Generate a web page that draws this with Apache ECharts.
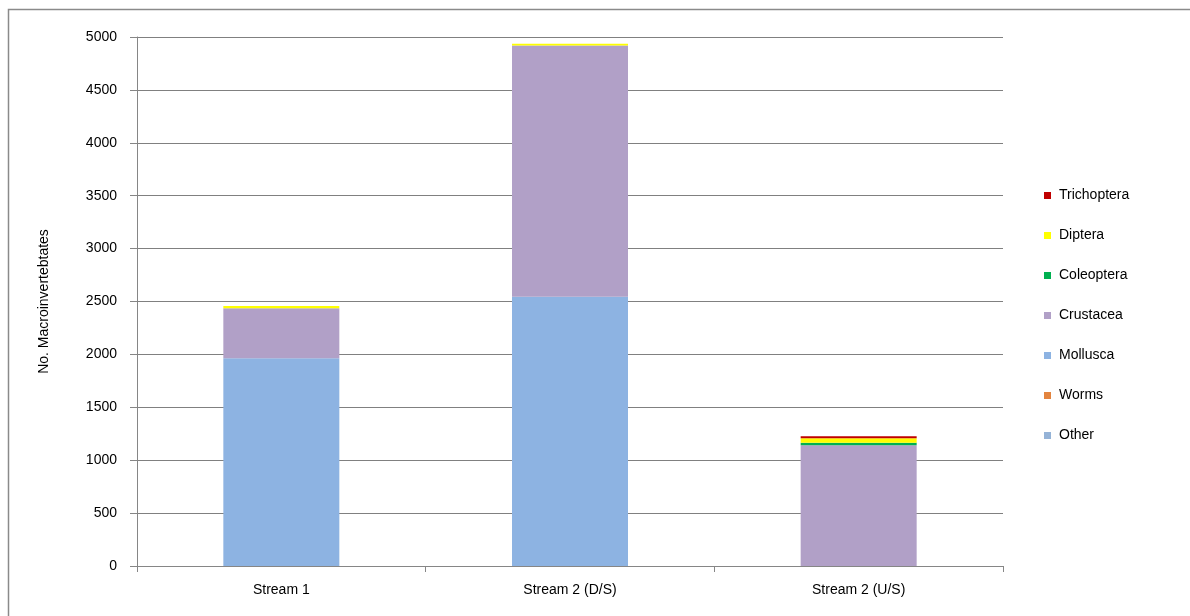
<!DOCTYPE html>
<html>
<head>
<meta charset="utf-8">
<script src="https://cdn.jsdelivr.net/npm/echarts@6/dist/echarts.min.js"></script>
<style>html,body{margin:0;padding:0;background:#fff}#c{width:1190px;height:616px}</style>
</head>
<body>
<div id="c"></div>
<script>
const categories = ['Stream 1', 'Stream 2 (D/S)', 'Stream 2 (U/S)'];
const other = [0, 0, 0];
const worms = [0, 0, 0];
const mollusca = [1963, 2545, 0];
const crustacea = [473, 2375, 1142];
const coleoptera = [0, 0, 22];
const diptera = [21, 17, 44];
const trichoptera = [0, 0, 19];
const yTicks = [0, 500, 1000, 1500, 2000, 2500, 3000, 3500, 4000, 4500, 5000];

const seriesDefs = [
  ['Other', other, '#95B3D7'],
  ['Worms', worms, '#E3843F'],
  ['Mollusca', mollusca, '#8DB3E2'],
  ['Crustacea', crustacea, '#B1A0C7'],
  ['Coleoptera', coleoptera, '#00B050'],
  ['Diptera', diptera, '#FFFF00'],
  ['Trichoptera', trichoptera, '#C00000']
];

const chart = echarts.init(document.getElementById('c'), null, {renderer: 'canvas'});
const font = 'Liberation Sans, Arial, sans-serif';
chart.setOption({
  animation: false,
  textStyle: {fontFamily: font},
  graphic: [{
    type: 'rect', left: 6, top: 7,
    shape: {width: 1200, height: 700},
    style: {fill: 'none', stroke: '#8a8a8a', lineWidth: 1.5},
    silent: true
  }],
  grid: {left: 137, top: 37, width: 866, height: 529},
  legend: {
    orient: 'vertical',
    left: 1039,
    top: 183,
    itemWidth: 7,
    itemHeight: 7,
    itemGap: 25,
    icon: 'rect',
    textStyle: {fontSize: 14, color: '#000', fontFamily: font, padding: [0, 0, 0, 3], lineHeight: 15},
    data: ['Trichoptera', 'Diptera', 'Coleoptera', 'Crustacea', 'Mollusca', 'Worms', 'Other']
  },
  xAxis: {
    type: 'category',
    data: categories,
    axisLine: {lineStyle: {color: '#868686', width: 1}},
    axisTick: {show: true, length: 6, lineStyle: {color: '#868686'}},
    axisLabel: {color: '#000', fontSize: 14, margin: 17, fontFamily: font}
  },
  yAxis: {
    type: 'value',
    min: 0, max: 5000, interval: 500,
    name: 'No. Macroinvertebtates',
    nameLocation: 'middle',
    nameGap: 86,
    nameRotate: 90,
    nameTextStyle: {color: '#000', fontSize: 14, fontFamily: font},
    axisLine: {show: true, lineStyle: {color: '#868686', width: 1}},
    axisTick: {show: true, length: 7, lineStyle: {color: '#868686'}},
    axisLabel: {color: '#000', fontSize: 14, margin: 20, fontFamily: font,
      formatter: v => yTicks.includes(v) ? String(v) : ''},
    splitLine: {lineStyle: {color: '#808080', width: 1}}
  },
  series: seriesDefs.map(([name, data, color]) => ({
    name, type: 'bar', stack: 'total', data, barWidth: 116,
    itemStyle: {color},
    emphasis: {disabled: true}
  }))
});
</script>
</body>
</html>
